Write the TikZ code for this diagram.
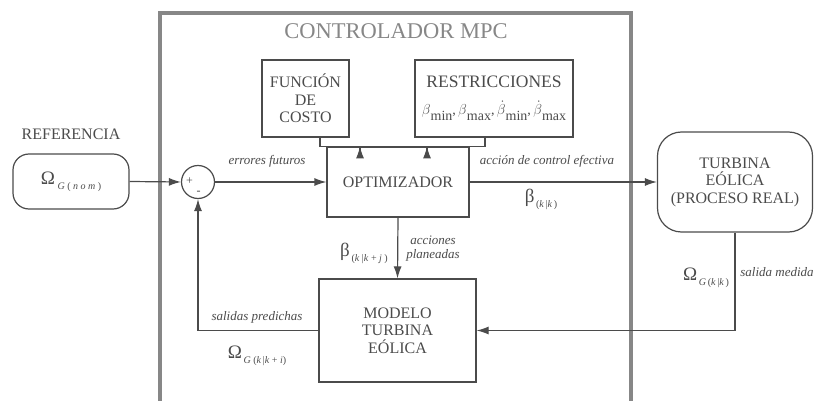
\documentclass[tikz,border=0pt]{standalone}
\usepackage{fontspec}
\setmainfont{Liberation Serif}
\usetikzlibrary{arrows.meta}
\tikzset{>={Latex[length=12pt,width=8pt]}}
\definecolor{lineColour}{RGB}{75,75,75}
\definecolor{frameColour}{RGB}{135,135,135}
\tikzset{
	block/.style={draw=lineColour, line width=1.2pt, text=lineColour, align=center, inner sep=0pt,
		font=\fontsize{16}{17.5}\selectfont},
	roundBlock/.style={block, rounded corners=16pt},
	sigLabel/.style={text=lineColour, inner sep=0pt, font=\fontsize{13}{14}\selectfont\itshape},
	varLabel/.style={text=lineColour, inner sep=0pt, anchor=base},
	signal/.style={draw=lineColour, line width=1.2pt}
}
\newcommand{\omegaVar}[1]{{\fontsize{19}{19}\selectfont Ω}\,\raisebox{-5pt}{\fontsize{10}{10}\selectfont #1}}
\newcommand{\betaVar}[1]{{\fontsize{19}{19}\selectfont β}\,\raisebox{-5pt}{\fontsize{10}{10}\selectfont #1}}
\newcommand{\limVar}[2]{$#1$\raisebox{-6pt}{#2}}

\begin{document}
\begin{tikzpicture}[x=1pt, y=-1pt]
		\useasboundingbox (0, 0) rectangle (817, 401);

		% the controller frame
		\draw[frameColour, line width=3.5pt] (160, 401) -- (160, 13) -- (631, 13) -- (631, 401);
		\node[text=frameColour, font=\fontsize{22.5}{24}\selectfont] (title) at (396, 31) {CONTROLADOR MPC};

		% the blocks
		\node[roundBlock, minimum width=116pt, minimum height=55pt] (ref) at (71, 181.5) {\omegaVar{\textit{G} ( \textit{n o m} )}};
		\node[text=lineColour, font=\fontsize{16}{17}\selectfont] (refTitle) at (71, 134) {REFERENCIA};
		\node[draw=lineColour, line width=1.2pt, circle, minimum size=33pt, inner sep=0pt] (sum) at (198, 182) {};
		\node[text=lineColour, inner sep=0pt, font=\fontsize{12}{12}\selectfont] (plus) at (189.5, 181) {+};
		\node[text=lineColour, inner sep=0pt, font=\fontsize{12}{12}\selectfont] (minus) at (198.5, 193) {-};
		\node[block, minimum width=142pt, minimum height=70pt] (opt) at (398, 182) {OPTIMIZADOR};
		\node[block, minimum width=87pt, minimum height=77pt] (cost) at (305.5, 98.5) {FUNCIÓN\\DE\\COSTO};
		\node[block, minimum width=158pt, minimum height=77pt] (restr) at (494, 98.5)
			{{\fontsize{17.5}{19}\selectfont RESTRICCIONES}\\[9pt]
			 {\fontsize{14}{14}\selectfont \limVar{\beta}{min},\,\limVar{\beta}{max},\,\limVar{\dot{\beta}}{min},\,\limVar{\dot{\beta}}{max}}};
		\node[block, minimum width=157pt, minimum height=103pt] (model) at (397.5, 330.5) {MODELO\\TURBINA\\EÓLICA};
		\node[roundBlock, rounded corners=24pt, minimum width=155pt, minimum height=100pt] (plant) at (735, 182)
			{TURBINA\\EÓLICA\\(PROCESO REAL)};

		% the signals
		\draw[signal, ->] (ref.east) -- (sum.west);
		\draw[signal, ->] (sum.east) -- (opt.west);
		\draw[signal, ->] (opt.east) -- (plant.west);
		\draw[signal, ->] ([xshift=14.5pt]cost.south) -- ++(0, 9) -| ([xshift=-38pt]opt.north);
		\draw[signal, ->] ([xshift=-9pt]restr.south) -- ++(0, 9) -| ([xshift=29pt]opt.north);
		\draw[signal, ->] (opt.south) -- (model.north);
		\draw[signal, ->] (model.west) -| (sum.south);
		\draw[signal, ->] (plant.south) |- (model.east);

		% signal labels
		\node[sigLabel] (errLbl) at (267, 161) {errores futuros};
		\node[sigLabel] (actLbl) at (547, 161) {acción de control efectiva};
		\node[varLabel] (betaAct) at (541, 203) {\betaVar{(\textit{k}\,|\textit{k}\,)}};
		\node[varLabel] (betaPlan) at (364, 256) {\betaVar{(\textit{k} |\textit{k} + \textit{j} )}};
		\node[sigLabel, align=center] (planLbl) at (433, 249) {acciones\\planeadas};
		\node[sigLabel] (predLbl) at (257, 317) {salidas predichas};
		\node[varLabel] (omegaPred) at (257, 358) {\omegaVar{\textit{G} (\textit{k}\,|\textit{k} + \textit{i})}};
		\node[varLabel] (omegaMeas) at (706, 280) {\omegaVar{\textit{G}\,(\textit{k}\,|\textit{k}\,)}};
		\node[sigLabel] (measLbl) at (777, 272) {salida medida};
\end{tikzpicture}
\end{document}
